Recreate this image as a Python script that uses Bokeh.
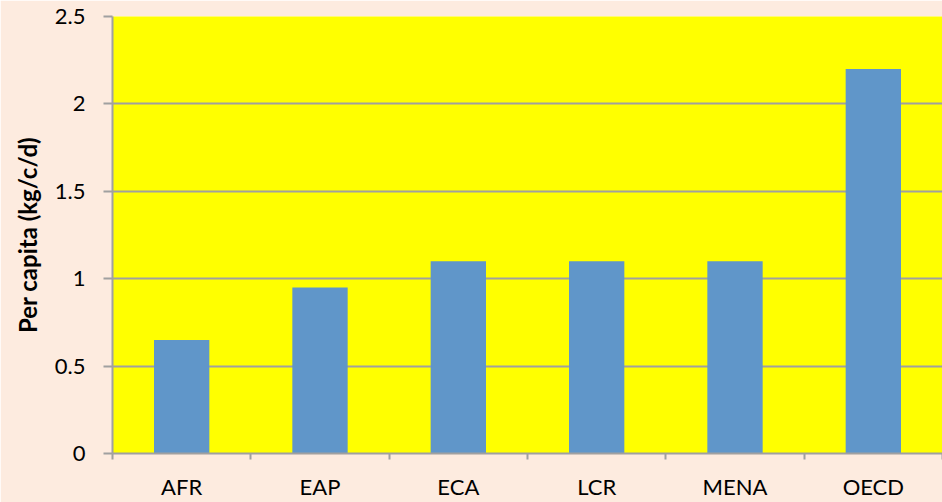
from bokeh.plotting import figure
from bokeh.models import ColumnDataSource, FixedTicker, Range1d
from bokeh.embed import file_html
from bokeh.resources import INLINE

# Waste generation per capita by region
regions = ["AFR", "EAP", "ECA", "LCR", "MENA", "OECD"]
per_capita = [0.65, 0.95, 1.1, 1.1, 1.1, 2.2]
y_ticks = [0, 0.5, 1, 1.5, 2, 2.5]
y_tick_labels = ["0", "0.5", "1", "1.5", "2", "2.5"]

centers = [i + 0.5 for i in range(len(regions))]
bounds = list(range(len(regions) + 1))

src = ColumnDataSource(dict(x=centers, top=per_capita, region=regions))

FONT = "Lato"
GRID = "#a0a0a0"

p = figure(width=942, height=502, output_backend="svg", toolbar_location=None,
           x_range=Range1d(0, len(regions)), y_range=Range1d(0, 2.5))
p.min_border_left = 112
p.min_border_top = 16
p.min_border_right = 0
p.min_border_bottom = 49
p.background_fill_color = "#ffff00"
p.border_fill_color = "#fdebdf"
p.outline_line_color = None

p.vbar(x="x", top="top", width=0.4, bottom=0, source=src,
       fill_color="#6096c9", line_color=None)

# y axis
p.yaxis.ticker = FixedTicker(ticks=y_ticks)
p.yaxis.major_label_overrides = {t: s for t, s in zip(y_ticks, y_tick_labels)}
p.yaxis.axis_label = "Per capita (kg/c/d)"
p.yaxis.axis_label_text_font = FONT
p.yaxis.axis_label_text_font_style = "bold"
p.yaxis.axis_label_text_font_size = "24px"
p.yaxis.axis_label_text_color = "#000000"
p.yaxis.axis_label_standoff = 10
p.yaxis.major_label_text_font = FONT
p.yaxis.major_label_text_font_size = "22px"
p.yaxis.major_label_text_color = "#000000"
p.yaxis.major_label_standoff = 18
p.yaxis.axis_line_color = GRID
p.yaxis.axis_line_width = 2
p.yaxis.major_tick_line_color = GRID
p.yaxis.major_tick_line_width = 2
p.yaxis.major_tick_out = 9
p.yaxis.major_tick_in = 0
p.yaxis.minor_tick_line_color = None

# x axis: labels at bar centres, tick marks at category boundaries
p.xaxis.ticker = FixedTicker(ticks=centers, minor_ticks=bounds)
p.xaxis.major_label_overrides = {c: r for c, r in zip(centers, regions)}
p.xaxis.major_label_text_font = FONT
p.xaxis.major_label_text_font_size = "22px"
p.xaxis.major_label_text_color = "#000000"
p.xaxis.major_label_standoff = 13
p.xaxis.axis_line_color = GRID
p.xaxis.axis_line_width = 2
p.xaxis.major_tick_line_color = None
p.xaxis.major_tick_out = 0
p.xaxis.major_tick_in = 0
p.xaxis.minor_tick_line_color = GRID
p.xaxis.minor_tick_line_width = 2
p.xaxis.minor_tick_out = 6
p.xaxis.minor_tick_in = 0

p.xgrid.grid_line_color = None
p.ygrid.grid_line_color = GRID
p.ygrid.grid_line_width = 2
p.ygrid.ticker = FixedTicker(ticks=y_ticks)

open("out.html", "w").write(file_html(p, INLINE))
